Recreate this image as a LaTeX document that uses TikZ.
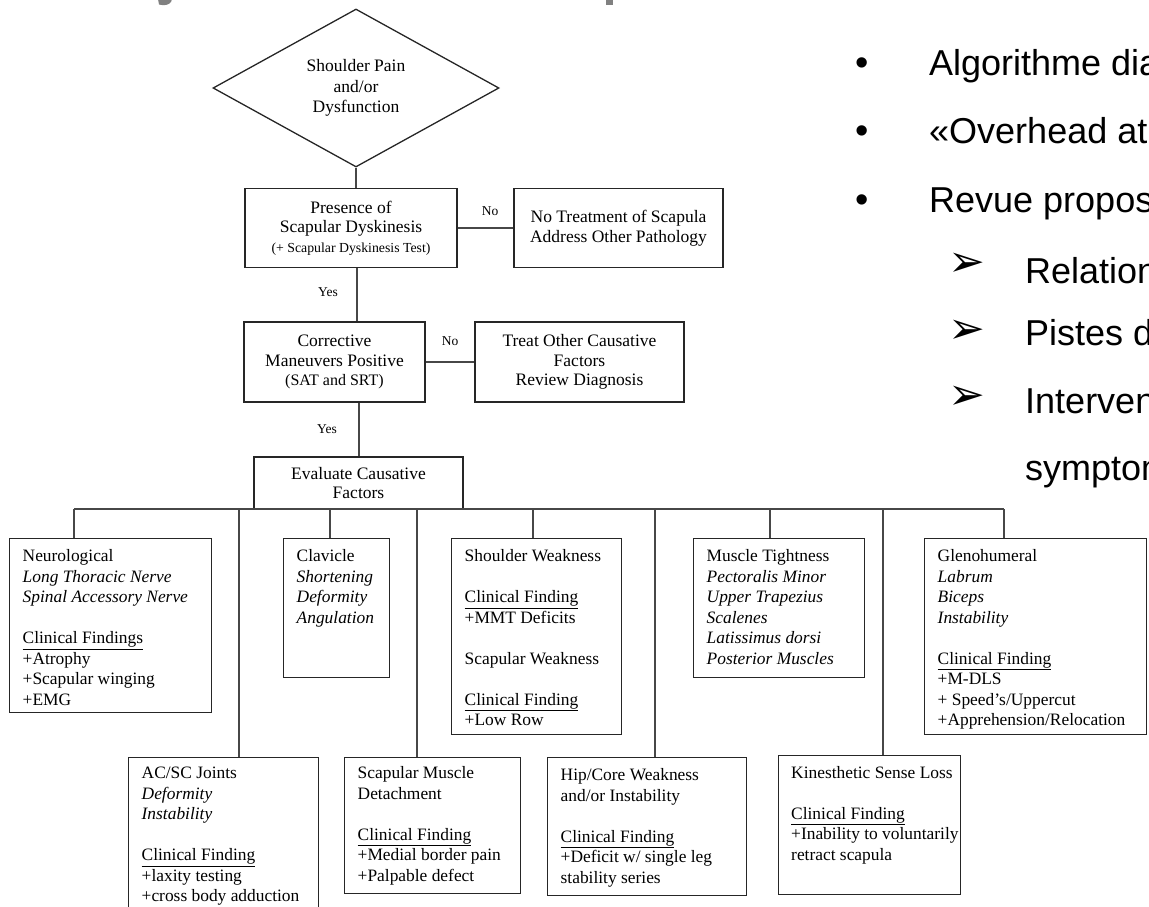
\documentclass[tikz,border=0pt]{standalone}
\usepackage{fontspec}
\setmainfont{Liberation Serif}
\newfontfamily\arialf{Liberation Sans}
\newfontfamily\dejavu{DejaVu Sans}
\usetikzlibrary{shapes.geometric}
\begin{document}
\begin{tikzpicture}[x=1pt,y=-1pt,
  conn/.style={draw=black!72, line width=1.2pt},
  box/.style={draw=black!85, line width=1.4pt, inner sep=0pt, anchor=north west},
  cbox/.style={draw=black!85, line width=1.4pt, inner sep=0pt, align=center, font=\fontsize{17.5}{19.5}\selectfont},
  txt/.style={anchor=north west, inner sep=0pt, align=left, font=\fontsize{17.4}{20.5}\selectfont},
  lab/.style={font=\fontsize{13.5}{16}\selectfont, inner sep=0pt},
  big/.style={anchor=base west, inner sep=0pt, font=\arialf\fontsize{36}{40}\selectfont},
  bul/.style={anchor=base, inner sep=0pt, font=\arialf\fontsize{38}{40}\selectfont},
  arr/.style={anchor=center, inner sep=0pt, font=\dejavu\fontsize{44}{46}\selectfont},
  titlefrag/.style={fill=black!50, draw=none},
]
\useasboundingbox (0,0) rectangle (1149,907);
\clip (0,0) rectangle (1149,907);

% ---- fragments of the cut-off slide title ----
\fill[titlefrag] (158,-1) -- (172,-1) -- (171,2) .. controls (169,5) and (164,6) .. (159,4.5) -- cycle;
\fill[titlefrag] (606,-1) rectangle (613,5);

% ---- upper flow ----
\node[diamond, draw=black!85, line width=1.3pt, minimum width=286pt, minimum height=158pt,
      inner sep=0pt, align=center, font=\fontsize{17.5}{20.5}\selectfont] (pain) at (356,88)
      {Shoulder Pain\\and/or\\Dysfunction};
\node[cbox, minimum width=212pt, minimum height=79pt] (pres) at (351,228)
      {Presence of\\Scapular Dyskinesis\\{\fontsize{13.8}{16}\selectfont (+ Scapular Dyskinesis Test)}};
\node[cbox, minimum width=209pt, minimum height=79pt] (notr) at (618.5,228)
      {No Treatment of Scapula\\Address Other Pathology};
\node[cbox, minimum width=181pt, minimum height=80pt] (corr) at (334.5,362)
      {Corrective\\Maneuvers Positive\\{\fontsize{16}{19}\selectfont (SAT and SRT)}};
\node[cbox, minimum width=209pt, minimum height=80pt] (treat) at (579.5,362)
      {Treat Other Causative\\Factors\\Review Diagnosis};
\node[cbox, minimum width=209pt, minimum height=52pt] (eval) at (358.5,483)
      {Evaluate Causative\\Factors};

\coordinate (vx1) at (357,0);
\coordinate (vx2) at (359,0);
\draw[conn] (pain.south) -- (pain.south |- pres.north);
\draw[conn] (pres.east) -- (notr.west);
\draw[conn] (pres.south -| vx1) -- (corr.north -| vx1);
\draw[conn] (corr.east) -- (treat.west);
\draw[conn] (corr.south -| vx2) -- (eval.north -| vx2);
\node[lab] (no1) at (490,211) {No};
\node[lab] (yes1) at (328,292) {Yes};
\node[lab] (no2) at (450,341) {No};
\node[lab] (yes2) at (327,429) {Yes};

% ---- bus ----
\coordinate (b1) at (74,509);
\coordinate (b2) at (239,509);
\coordinate (b3) at (330,509);
\coordinate (b4) at (417,509);
\coordinate (b5) at (533,509);
\coordinate (b6) at (655,509);
\coordinate (b7) at (770,509);
\coordinate (b8) at (883,509);
\coordinate (b9) at (1004,509);
\draw[conn] (b1) -- (b9);

% ---- top row boxes ----
\node[box, minimum width=202pt, minimum height=174pt] (neuro) at (9,538) {};
\node[txt] (neurot) at (22.5,547.2) {\strut Neurological\\
  \textit{Long Thoracic Nerve}\\
  \textit{Spinal Accessory Nerve}\\[20.5pt]
  \underline{Clinical Findings}\\
  +Atrophy\\
  +Scapular winging\\
  +EMG};

\node[box, minimum width=106pt, minimum height=139pt] (clav) at (283,538) {};
\node[txt] (clavt) at (296.5,547.2) {\strut Clavicle\\
  \textit{Shortening}\\
  \textit{Deformity}\\
  \textit{Angulation}};

\node[box, minimum width=170pt, minimum height=196pt] (shw) at (451,538) {};
\node[txt] (shwt) at (464.5,547.2) {\strut Shoulder Weakness\\[20.5pt]
  \underline{Clinical Finding}\\
  +MMT Deficits\\[20.5pt]
  Scapular Weakness\\[20.5pt]
  \underline{Clinical Finding}\\
  +Low Row};

\node[box, minimum width=171pt, minimum height=139pt] (mus) at (693,538) {};
\node[txt] (must) at (706.5,547.2) {\strut Muscle Tightness\\
  \textit{Pectoralis Minor}\\
  \textit{Upper Trapezius}\\
  \textit{Scalenes}\\
  \textit{Latissimus dorsi}\\
  \textit{Posterior Muscles}};

\node[box, minimum width=222pt, minimum height=196pt] (gleno) at (924,538) {};
\node[txt] (glenot) at (937.5,547.2) {\strut Glenohumeral\\
  \textit{Labrum}\\
  \textit{Biceps}\\
  \textit{Instability}\\[20.5pt]
  \underline{Clinical Finding}\\
  +M-DLS\\
  + Speed’s/Uppercut\\
  +Apprehension/Relocation};

% ---- bottom row boxes ----
\node[box, minimum width=190pt, minimum height=180pt] (acsc) at (128,757) {};
\node[txt] (acsct) at (141.5,764.2) {\strut AC/SC Joints\\
  \textit{Deformity}\\
  \textit{Instability}\\[20.5pt]
  \underline{Clinical Finding}\\
  +laxity testing\\
  +cross body adduction};

\node[box, minimum width=176pt, minimum height=136pt] (scm) at (344,757) {};
\node[txt] (scmt) at (357.5,764.2) {\strut Scapular Muscle\\
  Detachment\\[20.5pt]
  \underline{Clinical Finding}\\
  +Medial border pain\\
  +Palpable defect};

\node[box, minimum width=199pt, minimum height=138pt] (hip) at (547,757) {};
\node[txt] (hipt) at (560.5,766.2) {\strut Hip/Core Weakness\\
  and/or Instability\\[20.5pt]
  \underline{Clinical Finding}\\
  +Deficit w/ single leg\\
  stability series};

\node[box, minimum width=182pt, minimum height=139pt] (kin) at (778,755) {};
\node[txt] (kint) at (791,763.5) {\strut Kinesthetic Sense Loss\\[20.5pt]
  \underline{Clinical Finding}\\
  +Inability to voluntarily\\
  retract scapula};

% ---- drops ----
\draw[conn] (b1) -- (b1 |- neuro.north);
\draw[conn] (b2) -- (b2 |- acsc.north);
\draw[conn] (b3) -- (b3 |- clav.north);
\draw[conn] (b4) -- (b4 |- scm.north);
\draw[conn] (b5) -- (b5 |- shw.north);
\draw[conn] (b6) -- (b6 |- hip.north);
\draw[conn] (b7) -- (b7 |- mus.north);
\draw[conn] (b8) -- (b8 |- kin.north);
\draw[conn] (b9) -- (b9 |- gleno.north);

% ---- right-hand slide text (cut off at the right edge, as in the slide) ----
\node[bul] (bu1) at (862,76) {•};
\node[big] (t1) at (929,76) {Algorithme dia};
\node[bul] (bu2) at (862,143) {•};
\node[big] (t2) at (929,143) {«Overhead at};
\node[bul] (bu3) at (862,212) {•};
\node[big] (t3) at (929,212) {Revue propos};
\node[arr] (ar1) at (967,265) {➢};
\node[big] (t4) at (1025,283) {Relation};
\node[arr] (ar2) at (967,332) {➢};
\node[big] (t5) at (1025,345) {Pistes d};
\node[arr] (ar3) at (967,398) {➢};
\node[big] (t6) at (1025,413) {Interven};
\node[big] (t7) at (1025,480) {symptom};
\end{tikzpicture}
\end{document}
